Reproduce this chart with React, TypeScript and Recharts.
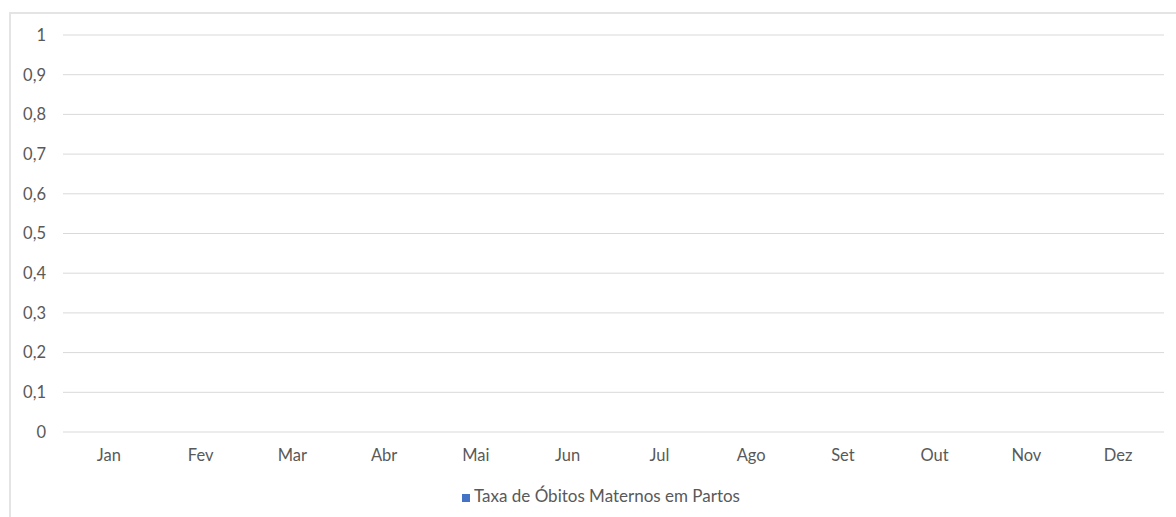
import { Bar, BarChart, CartesianGrid, Legend, XAxis, YAxis } from "recharts";

const MONTHS = ["Jan", "Fev", "Mar", "Abr", "Mai", "Jun", "Jul", "Ago", "Set", "Out", "Nov", "Dez"];
const TAXA = [0, 0, 0, 0, 0, 0, 0, 0, 0, 0, 0, 0];
const Y_TICKS = [0, 0.1, 0.2, 0.3, 0.4, 0.5, 0.6, 0.7, 0.8, 0.9, 1];
const SERIES_NAME = "Taxa de Óbitos Maternos em Partos";

const TEXT = "#595959";
const GRID = "#d9d9d9";
const BLUE = "#4472c4";
const FONT = "Lato, 'Open Sans', sans-serif";

// pt-BR decimal comma: 0.5 -> 0,5
const fmt = (v: number) => String(Math.round(v * 10) / 10).replace(".", ",");

export default function App() {
  const data = MONTHS.map((m, i) => ({ month: m, taxa: TAXA[i] }));
  const tick = { fill: TEXT, fontSize: 16.5, fontFamily: FONT };

  return (
    <div style={{ position: "fixed", left: 0, top: 0, width: 1176, height: 517, overflow: "hidden", background: "#fff" }}>
      <div
        style={{
          position: "absolute",
          left: 9,
          top: 12,
          width: 1200,
          height: 600,
          border: "2px solid #e4e4e4",
        }}
      />
      <div style={{ position: "absolute", left: 0, top: 0 }}>
        <BarChart width={1194} height={517} data={data} margin={{ top: 35, right: 30, left: 0, bottom: 11 }}>
          <CartesianGrid stroke={GRID} vertical={false} />
          <XAxis dataKey="month" axisLine={false} tickLine={false} tick={tick} tickMargin={11} height={53} />
          <YAxis
            domain={[0, 1]}
            ticks={Y_TICKS}
            tickFormatter={fmt}
            axisLine={false}
            tickLine={false}
            tick={tick}
            tickMargin={11}
            width={63}
          />
          <Legend
            verticalAlign="bottom"
            iconType="square"
            iconSize={8}
            wrapperStyle={{ fontFamily: FONT, fontSize: 17, color: TEXT, paddingLeft: 24 }}
            formatter={(v) => <span style={{ color: TEXT }}>{v}</span>}
          />
          <Bar dataKey="taxa" name={SERIES_NAME} fill={BLUE} isAnimationActive={false} />
        </BarChart>
      </div>
    </div>
  );
}
